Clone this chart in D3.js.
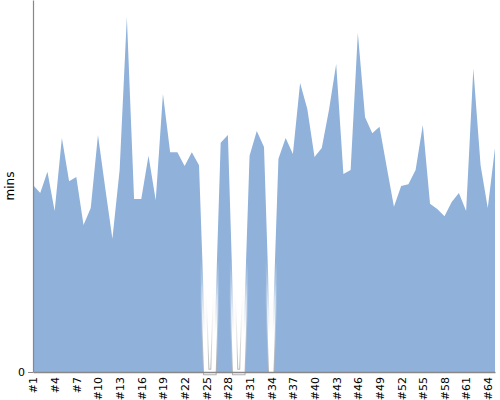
<!DOCTYPE html>
<html>
<head>
<meta charset="utf-8">
<script src="https://cdn.jsdelivr.net/npm/d3@7/dist/d3.min.js"></script>
<style>
  html, body { margin: 0; padding: 0; background: #fff; }
  svg { display: block; font-family: "DejaVu Sans", sans-serif; }
</style>
</head>
<body>
<svg id="chart" width="500" height="400"></svg>
<script>
const categories = d3.range(1, 66).map(i => "#" + i);
const values = [
  50.3, 48.1, 53.8, 43.3, 62.9, 51.3, 52.4, 39.5, 44.1, 63.7,
  49.5, 35.8, 54.3, 95.4, 46.5, 46.5, 58.1, 46.2, 74.7, 59.1,
  59.1, 55.4, 59.1, 55.6, 0, 0, 61.6, 63.7, 0, 0,
  58.1, 64.8, 60.5, 0, 57.3, 62.9, 58.6, 77.7, 70.7, 57.8,
  60.2, 70.4, 82.8, 53.2, 54.3, 91.1, 68.5, 64.2, 65.9, 55.1,
  44.4, 50.0, 50.5, 54.3, 66.4, 45.2, 43.8, 41.9, 45.7, 48.1,
  43.3, 81.5, 55.6, 44.1, 60.2
];
const yTicks = [0];
const yLabel = "mins";

const svg = d3.select("#chart");
const margin = { left: 33, right: 5, top: 0, bottom: 28 };
const W = 500, H = 400;

const x = d3.scalePoint().domain(categories).range([margin.left, W - margin.right]);
const y = d3.scaleLinear().domain([0, 100]).range([H - margin.bottom, margin.top]);

const data = categories.map((c, i) => ({ c, v: values[i] }));

const defs = svg.append("defs");
const grad = defs.append("linearGradient")
  .attr("id", "edge").attr("gradientUnits", "userSpaceOnUse")
  .attr("x1", 0).attr("x2", 0).attr("y1", y(24)).attr("y2", y(0));
grad.append("stop").attr("offset", "0%").attr("stop-color", "#ffffff").attr("stop-opacity", 0);
grad.append("stop").attr("offset", "100%").attr("stop-color", "#b0b0b0").attr("stop-opacity", 1);

const wgrad = defs.append("linearGradient")
  .attr("id", "wedge").attr("gradientUnits", "userSpaceOnUse")
  .attr("x1", 0).attr("x2", 0).attr("y1", y(30)).attr("y2", y(10));
wgrad.append("stop").attr("offset", "0%").attr("stop-color", "#ffffff").attr("stop-opacity", 0);
wgrad.append("stop").attr("offset", "100%").attr("stop-color", "#ffffff").attr("stop-opacity", 1);

const line = d3.line().x(d => x(d.c)).y(d => y(d.v));
const area = d3.area().x(d => x(d.c)).y0(y(0)).y1(d => y(d.v));

svg.append("path").datum(data)
  .attr("d", area)
  .attr("fill", "#8fb1da");

svg.append("path").datum(data)
  .attr("d", line)
  .attr("fill", "none")
  .attr("stroke", "url(#edge)")
  .attr("stroke-width", 6.5);

svg.append("path").datum(data)
  .attr("d", line)
  .attr("fill", "none")
  .attr("stroke", "url(#wedge)")
  .attr("stroke-width", 4.5);

// x axis
const xTickVals = categories.filter((c, i) => i % 3 === 0);
const xAxis = svg.append("g")
  .attr("transform", `translate(0,${y(0)})`)
  .call(d3.axisBottom(x).tickValues(xTickVals).tickSize(0).tickSizeOuter(0));
xAxis.select(".domain").attr("stroke", "#888").attr("stroke-width", 1.5);
xAxis.selectAll("text")
  .attr("transform", "rotate(-90)")
  .attr("text-anchor", "end")
  .attr("x", -5).attr("y", 0).attr("dy", "0.35em")
  .attr("font-size", 11)
  .attr("font-family", "DejaVu Sans, sans-serif")
  .attr("fill", "#000");

// y axis
const yAxis = svg.append("g")
  .attr("transform", `translate(${margin.left},0)`)
  .call(d3.axisLeft(y).tickValues(yTicks).tickSize(5).tickSizeOuter(0));
yAxis.select(".domain").attr("stroke", "#888").attr("stroke-width", 1.2);
yAxis.selectAll(".tick line").attr("stroke", "#888");
yAxis.selectAll("text")
  .attr("font-size", 11)
  .attr("font-family", "DejaVu Sans, sans-serif")
  .attr("fill", "#000");

svg.append("text")
  .attr("transform", `translate(14,${(y(0) + margin.top) / 2}) rotate(-90)`)
  .attr("text-anchor", "middle")
  .attr("font-size", 12)
  .attr("fill", "#000")
  .text(yLabel);
</script>
</body>
</html>
